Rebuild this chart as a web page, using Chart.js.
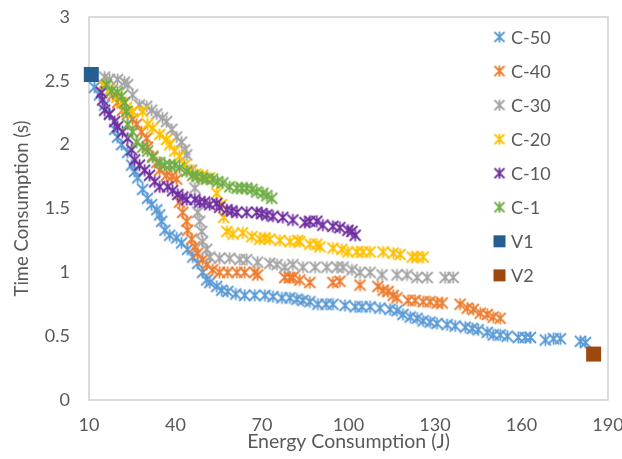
<!DOCTYPE html>
<html>
<head>
<meta charset="utf-8">
<script src="https://cdn.jsdelivr.net/npm/chart.js@4/dist/chart.umd.min.js"></script>
<style>
html,body{margin:0;padding:0;background:#fff;}
#wrap{width:622px;height:459px;position:relative;background:#fff;}
</style>
</head>
<body>
<div id="wrap"><canvas id="c" width="622" height="459"></canvas></div>
<script>
// ---------- DATA ----------
const seriesNames = ['C-50','C-40','C-30','C-20','C-10','C-1','V1','V2'];
const seriesColors = ['#5B9BD5','#ED7D31','#A5A5A5','#FFC000','#7030A0','#70AD47','#255E91','#9E480E'];

const xTickValues = [10,40,70,100,130,160,190];
const xTickLabels = ['10','40','70','100','130','160','190'];
const yTickValues = [0,0.5,1,1.5,2,2.5,3];
const yTickLabels = ['0','0.5','1','1.5','2','2.5','3'];

const c50X = [11.9,13.6,15.4,17.1,18.9,19.9,21.3,23.4,24.8,25.8,26.9,28.6,30.3,31.7,33.5,34.5,35.2,36.3,38.0,40.4,42.1,44.2,46.0,47.7,49.4,50.8,51.9,54.3,56.0,58.1,60.9,64.0,67.5,71.0,73.8,76.9,79.7,82.1,84.2,86.6,89.4,92.2,94.6,98.8,102.3,104.7,107.5,110.9,114.4,116.8,118.9,121.4,123.8,125.9,128.3,130.7,134.2,137.0,140.5,142.9,145.0,148.1,150.2,152.6,155.1,158.9,161.3,163.1,168.3,171.1,173.5,180.4,182.2];
const c50Y = [2.45,2.39,2.31,2.24,2.12,2.06,2.00,1.94,1.84,1.79,1.74,1.65,1.58,1.53,1.49,1.45,1.40,1.33,1.29,1.27,1.23,1.18,1.12,1.07,1.00,0.94,0.92,0.89,0.86,0.85,0.83,0.82,0.82,0.82,0.81,0.80,0.80,0.79,0.78,0.77,0.75,0.75,0.75,0.74,0.73,0.73,0.73,0.72,0.71,0.70,0.67,0.65,0.64,0.62,0.61,0.60,0.59,0.58,0.57,0.56,0.55,0.53,0.51,0.51,0.50,0.49,0.49,0.49,0.47,0.48,0.48,0.46,0.45];

const c40X = [18.2,19.9,21.6,23.4,25.1,26.5,28.2,30.0,30.3,32.1,33.5,34.5,36.9,38.7,40.4,41.4,42.5,43.9,44.2,45.6,46.7,47.7,49.4,50.8,52.9,55.3,58.1,61.3,64.0,67.5,68.5,77.9,79.7,80.7,83.1,86.6,94.6,97.0,104.0,110.2,112.0,113.7,115.5,116.8,120.7,123.1,125.9,128.3,130.7,132.5,138.7,141.2,143.3,145.7,148.1,150.2,152.6];
const c40Y = [2.39,2.33,2.27,2.24,2.20,2.16,2.10,2.05,1.98,1.91,1.86,1.80,1.76,1.75,1.73,1.55,1.47,1.40,1.33,1.26,1.20,1.15,1.10,1.06,1.02,1.00,1.00,1.00,1.00,1.00,0.98,0.96,0.96,0.96,0.94,0.92,0.92,0.93,0.90,0.89,0.86,0.85,0.82,0.80,0.78,0.78,0.77,0.77,0.76,0.76,0.75,0.72,0.71,0.68,0.67,0.65,0.64];

const c30X = [15.4,17.1,19.9,22.3,23.4,25.1,27.5,30.0,31.7,33.5,35.5,36.9,38.7,40.4,42.1,43.2,43.9,45.6,46.7,47.7,48.4,49.1,49.4,50.8,51.9,55.3,58.8,62.3,64.7,68.5,72.7,75.2,77.9,80.7,84.2,88.4,92.5,96.0,98.1,101.2,104.0,107.5,111.6,116.8,120.3,123.8,127.3,133.5,136.3];
const c30Y = [2.53,2.51,2.51,2.49,2.47,2.39,2.31,2.30,2.27,2.24,2.21,2.18,2.12,2.06,2.02,1.96,1.92,1.80,1.66,1.47,1.40,1.32,1.24,1.18,1.12,1.11,1.11,1.10,1.10,1.08,1.07,1.06,1.04,1.06,1.04,1.04,1.04,1.04,1.04,1.02,1.00,1.00,0.98,0.98,0.98,0.96,0.96,0.96,0.96];

const c20X = [14.7,17.1,19.6,21.3,23.0,25.1,28.6,30.3,32.1,34.5,36.9,38.0,39.7,41.4,43.2,44.9,47.0,49.4,51.9,54.3,56.0,56.7,57.8,59.9,63.3,66.5,69.2,71.0,72.7,76.2,79.7,82.4,83.1,86.6,89.0,90.1,94.6,97.7,99.8,102.9,105.0,107.5,112.0,115.5,117.9,122.1,123.8,125.9];
const c20Y = [2.47,2.43,2.37,2.33,2.29,2.26,2.26,2.16,2.13,2.08,2.04,2.00,1.95,1.91,1.84,1.80,1.77,1.76,1.74,1.62,1.53,1.43,1.32,1.30,1.31,1.28,1.26,1.27,1.26,1.25,1.24,1.25,1.24,1.22,1.22,1.20,1.19,1.18,1.16,1.16,1.16,1.16,1.16,1.15,1.14,1.12,1.12,1.12];

const c10X = [14.3,14.7,15.4,17.1,18.9,19.9,21.6,23.4,24.8,25.8,27.5,29.3,31.0,32.8,34.5,37.3,39.0,40.8,42.5,43.9,46.7,48.4,50.1,51.9,54.3,55.3,57.8,59.5,61.3,64.7,68.2,69.9,71.7,73.8,77.2,80.7,84.9,86.6,89.0,91.1,94.6,97.0,99.8,101.2,102.3];
const c10Y = [2.41,2.35,2.27,2.24,2.18,2.14,2.10,2.05,1.96,1.88,1.84,1.80,1.76,1.71,1.67,1.67,1.64,1.61,1.59,1.57,1.57,1.55,1.55,1.53,1.54,1.51,1.49,1.48,1.47,1.47,1.47,1.46,1.45,1.44,1.43,1.41,1.39,1.40,1.40,1.37,1.36,1.35,1.33,1.32,1.29];

const c1X = [16.1,17.8,19.9,21.3,22.3,23.0,23.4,25.1,26.5,28.6,30.3,32.1,34.5,36.2,38.0,39.7,41.4,43.9,46.0,47.4,49.4,50.8,52.9,54.6,56.4,58.8,61.3,63.0,64.7,66.5,68.2,70.3,71.7,73.4];
const c1Y = [2.47,2.42,2.41,2.38,2.33,2.26,2.16,2.10,2.02,1.98,1.95,1.90,1.86,1.84,1.84,1.84,1.82,1.79,1.76,1.75,1.74,1.73,1.73,1.71,1.70,1.67,1.66,1.66,1.66,1.65,1.63,1.62,1.60,1.58];

const v1X = [10.8];
const v1Y = [2.55];
const v2X = [185.0];
const v2Y = [0.36];

const seriesX = [c50X,c40X,c30X,c20X,c10X,c1X,v1X,v2X];
const seriesY = [c50Y,c40Y,c30Y,c20Y,c10Y,c1Y,v1Y,v2Y];
const seriesShape = ['star','star','star','star','star','star','square','square'];

// ---------- MARKERS ----------
function starMarker(color, half, lw) {
  const s = Math.ceil(half * 2 + lw * 2 + 2);
  const c = document.createElement('canvas');
  c.width = s; c.height = s;
  const g = c.getContext('2d');
  const m = s / 2;
  g.strokeStyle = color; g.lineWidth = lw; g.lineCap = 'butt';
  g.beginPath();
  g.moveTo(m - half, m - half); g.lineTo(m + half, m + half);
  g.moveTo(m + half, m - half); g.lineTo(m - half, m + half);
  g.moveTo(m, m - half - 0.5); g.lineTo(m, m + half + 0.5);
  g.stroke();
  return c;
}
function squareMarker(color, side) {
  const s = Math.ceil(side + 2);
  const c = document.createElement('canvas');
  c.width = s; c.height = s;
  const g = c.getContext('2d');
  g.fillStyle = color;
  g.fillRect((s - side) / 2, (s - side) / 2, side, side);
  return c;
}
function marker(i, legend) {
  if (seriesShape[i] === 'square') return squareMarker(seriesColors[i], legend ? 12 : 15);
  return starMarker(seriesColors[i], legend ? 5 : 5.5, 1.8);
}

const datasets = seriesNames.map((name, i) => ({
  label: name,
  data: seriesX[i].map((x, k) => ({x: x, y: seriesY[i][k]})),
  pointStyle: marker(i, false),
  backgroundColor: seriesColors[i],
  borderColor: seriesColors[i],
  showLine: false,
  order: seriesNames.length - i,
  clip: false
}));
const legendMarkers = seriesNames.map((n, i) => marker(i, true));

const FONT = 'Lato';
const TXT = '#595959';

const frame = {
  id: 'frame',
  beforeDatasetsDraw(chart) {
    const a = chart.chartArea, ctx = chart.ctx;
    ctx.save();
    ctx.strokeStyle = '#D0D0D0';
    ctx.lineWidth = 1.5;
    ctx.strokeRect(a.left, a.top, a.right - a.left, a.bottom - a.top);
    ctx.restore();
  }
};
const legendBox = {
  id: 'legendBox',
  afterDatasetsDraw(chart) {
    const ctx = chart.ctx;
    const x0 = 499.5, y0 = 37, gap = 34.05, tx = 511;
    ctx.save();
    chart.data.datasets.forEach((ds, i) => {
      const y = y0 + i * gap;
      const img = legendMarkers[i];
      ctx.drawImage(img, x0 - img.width / 2, y - img.height / 2);
      ctx.fillStyle = TXT;
      ctx.font = '18px ' + FONT;
      ctx.textAlign = 'left';
      ctx.textBaseline = 'middle';
      ctx.fillText(ds.label, tx, y + 1);
    });
    ctx.restore();
  }
};

function lbl(values, labels, v) {
  const k = values.findIndex(t => Math.abs(t - v) < 1e-9);
  return k >= 0 ? labels[k] : '';
}

new Chart(document.getElementById('c'), {
  type: 'scatter',
  data: {datasets: datasets},
  plugins: [frame, legendBox],
  options: {
    responsive: false,
    animation: false,
    events: [],
    layout: {padding: {top: 17, right: 14, left: 0, bottom: 0}},
    plugins: {legend: {display: false}, tooltip: {enabled: false}},
    scales: {
      x: {
        type: 'linear', min: 10, max: 190,
        grid: {display: false, drawTicks: false},
        border: {display: false},
        ticks: {stepSize: 30, padding: 14, color: TXT, font: {family: FONT, size: 18},
          maxRotation: 0, autoSkip: false,
          callback: v => lbl(xTickValues, xTickLabels, v)},
        title: {display: true, text: 'Energy Consumption (J)', color: TXT,
          font: {family: FONT, size: 19.5}, padding: {top: 0, bottom: 6}},
        afterFit: s => { s.height = 59; s.paddingLeft = 0; s.paddingRight = 0; }
      },
      y: {
        type: 'linear', min: 0, max: 3,
        grid: {display: false, drawTicks: false},
        border: {display: false},
        ticks: {stepSize: 0.5, padding: 19, color: TXT, font: {family: FONT, size: 18},
          autoSkip: false,
          callback: v => lbl(yTickValues, yTickLabels, v)},
        title: {display: true, text: 'Time Consumption (s)', color: TXT,
          font: {family: FONT, size: 18.5}, padding: {top: 11, bottom: 0}},
        afterFit: s => { s.width = 89; s.paddingTop = 0; s.paddingBottom = 0; }
      }
    }
  }
});
</script>
</body>
</html>
